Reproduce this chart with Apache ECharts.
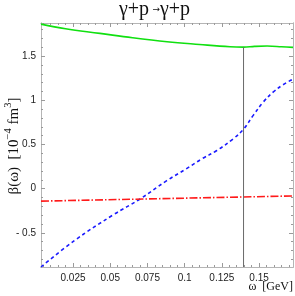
<!DOCTYPE html>
<html><head><meta charset="utf-8">
<script src="https://cdn.jsdelivr.net/npm/echarts@6/dist/echarts.min.js"></script>
<style>html,body{margin:0;padding:0;background:#fff}#c{width:295px;height:296px}</style>
</head><body><div id="c"></div>
<script>
// ---- data ----
var greenOmega = [0.0035, 0.02, 0.0431, 0.065, 0.0882, 0.11, 0.1305, 0.1396, 0.147, 0.1554, 0.165, 0.1728];
var greenBeta  = [1.862, 1.81, 1.758, 1.708, 1.663, 1.632, 1.606, 1.602, 1.610, 1.614, 1.607, 1.599];
var blueOmega  = [0.0035, 0.0263, 0.0521, 0.07, 0.088, 0.101, 0.1115, 0.1216, 0.1327, 0.1396, 0.1461, 0.1528, 0.1596, 0.166, 0.1728];
var blueBeta   = [-0.886, -0.583, -0.295, -0.117, 0.091, 0.224, 0.337, 0.432, 0.565, 0.675, 0.83, 0.98, 1.095, 1.175, 1.24];
var redOmega   = [0.0035, 0.1728];
var redBeta    = [-0.1405, -0.082];
var thresholdOmega = 0.13957;
var xMajorTicks = [0.025, 0.05, 0.075, 0.1, 0.125, 0.15];
var yMajorTicks = [-0.5, 0, 0.5, 1, 1.5];
var xRange = [0.0035, 0.1728];
var yRange = [-0.886, 1.875];

function zip(a, b) { return a.map(function (v, i) { return [v, b[i]]; }); }
function minors(lo, hi, step) {
  var out = [];
  var s = Math.ceil(lo / step - 1e-9);
  for (var k = s; k * step <= hi + 1e-12; k++) out.push(+(k * step).toFixed(6));
  return out;
}
var xMinor = minors(xRange[0], xRange[1], 0.005);
var yMinor = minors(yRange[0], yRange[1], 0.1);

var frame = '#b5b5b5', tickC = '#9a9a9a';
var labelStyle = { color: '#222', fontFamily: 'Liberation Sans, Arial, sans-serif', fontSize: 10 };

function xAx(pos, ticks, len, labels) {
  return {
    type: 'value', position: pos, min: xRange[0], max: xRange[1],
    axisLine: { show: true, onZero: false, lineStyle: { color: frame, width: 1 } },
    axisTick: { show: true, inside: true, length: len, customValues: ticks, lineStyle: { color: tickC } },
    axisLabel: labels ? Object.assign({ show: true, customValues: xMajorTicks, margin: 6,
      formatter: function (v) { return String(+v.toFixed(4)); } }, labelStyle) : { show: false },
    splitLine: { show: false }
  };
}
function yAx(pos, ticks, len, labels) {
  return {
    type: 'value', position: pos, min: yRange[0], max: yRange[1],
    axisLine: { show: true, onZero: false, lineStyle: { color: frame, width: 1 } },
    axisTick: { show: true, inside: true, length: len, customValues: ticks, lineStyle: { color: tickC } },
    axisLabel: labels ? Object.assign({ show: true, customValues: yMajorTicks, margin: 5,
      formatter: function (v) { v = +v.toFixed(3); return v < 0 ? '- ' + String(-v) : String(v); } }, labelStyle) : { show: false },
    splitLine: { show: false }
  };
}

var chart = echarts.init(document.getElementById('c'), null, { renderer: 'canvas' });
chart.setOption({
  animation: false,
  backgroundColor: '#fff',
  grid: { left: 41, right: 2, top: 23, bottom: 29, containLabel: false },
  xAxis: [
    xAx('bottom', xMajorTicks, 4, true),
    xAx('bottom', xMinor, 2, false),
    xAx('top', xMajorTicks, 4, false),
    xAx('top', xMinor, 2, false)
  ],
  yAxis: [
    yAx('left', yMajorTicks, 4, true),
    yAx('left', yMinor, 2, false),
    yAx('right', yMajorTicks, 4, false),
    yAx('right', yMinor, 2, false)
  ],
  graphic: [
    { type: 'text', left: 119, top: 0, z: 10,
      style: { text: '{b|γ+p} {s|→}{b|γ+p}',
        rich: { b: { fontFamily: 'Liberation Serif, Times New Roman, serif', fontSize: 20, fill: '#111' },
                s: { fontFamily: 'DejaVu Sans, sans-serif', fontSize: 9, fill: '#111' } } } },
    { type: 'text', rotation: Math.PI / 2, x: 3, y: 146, z: 10,
      style: { text: '{n|β(ω)  [10}{u|−4}{n| fm}{u|3}{n|]}', align: 'center', verticalAlign: 'top',
        rich: { n: { fontFamily: 'Liberation Serif, Times New Roman, serif', fontSize: 15, fill: '#111', lineHeight: 19, verticalAlign: 'bottom' },
                u: { fontFamily: 'Liberation Serif, Times New Roman, serif', fontSize: 10.5, fill: '#111', lineHeight: 19, verticalAlign: 'top' } } } },
    { type: 'text', right: 2, top: 281, z: 10,
      style: { text: 'ω  [GeV]', fontFamily: 'Liberation Serif, Times New Roman, serif', fontSize: 12, fill: '#111' } }
  ],
  series: [
    { type: 'line', data: zip(greenOmega, greenBeta), smooth: 0.4, symbol: 'none',
      lineStyle: { color: '#10e010', width: 1.6 } },
    { type: 'line', data: zip(blueOmega, blueBeta), smooth: 0.4, symbol: 'none',
      lineStyle: { color: '#1a1aff', width: 1.6, type: [3.5, 3] } },
    { type: 'line', data: zip(redOmega, redBeta), symbol: 'none',
      lineStyle: { color: '#ff1a1a', width: 1.6, type: [8, 2, 1.5, 2] } },
    { type: 'line', data: [[thresholdOmega, yRange[0]], [thresholdOmega, 1.602]], symbol: 'none',
      lineStyle: { color: '#6a6a6a', width: 1 } }
  ]
});
</script></body></html>
